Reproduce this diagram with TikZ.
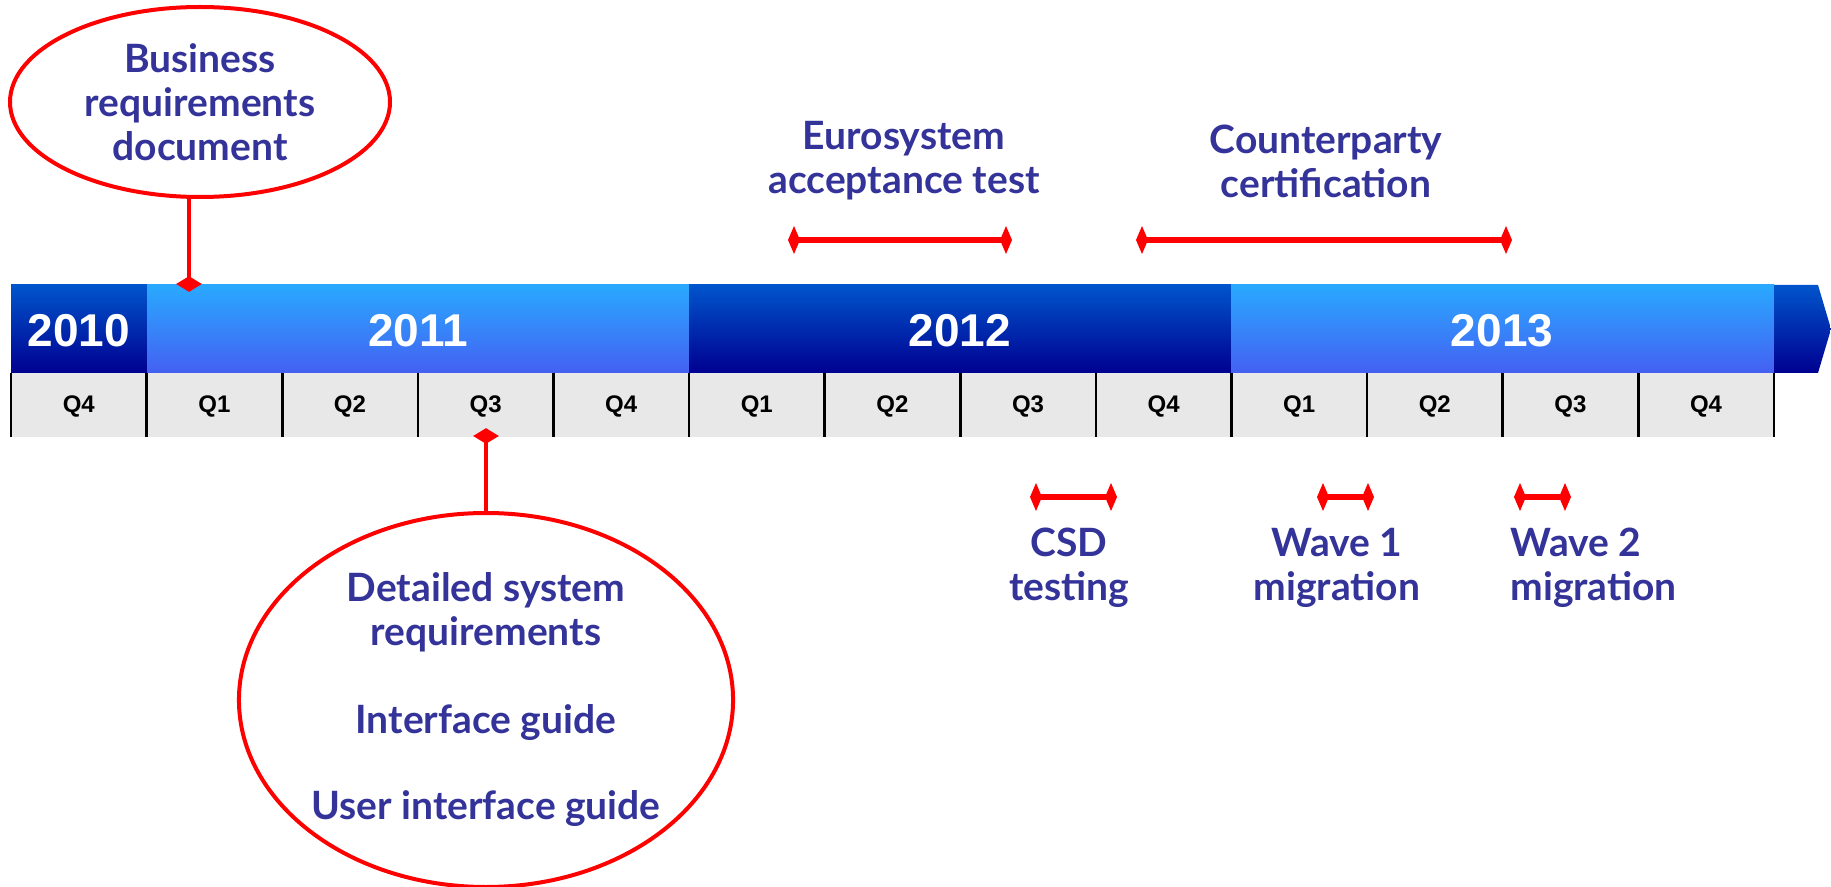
\documentclass[tikz,border=0pt]{standalone}
\usepackage{fontspec}
\newfontfamily\notefont{Lato}
\newfontfamily\barfont{Liberation Sans}
\usetikzlibrary{shapes.geometric,arrows.meta}

\definecolor{notecol}{HTML}{333399}
\definecolor{darktop}{HTML}{0055CC}
\definecolor{darkbot}{HTML}{000090}
\definecolor{lighttop}{HTML}{29A9FF}
\definecolor{lightbot}{HTML}{4460F2}
\definecolor{qgray}{HTML}{E8E8E8}

\tikzset{
  note/.style={text=notecol, font=\notefont\bfseries\fontsize{19.5}{22}\selectfont, align=center, inner sep=0pt},
  callout/.style={ellipse, draw=red, line width=2pt, note},
  milestone/.style={diamond, fill=red, inner sep=0pt, minimum width=13pt, minimum height=8pt},
  callline/.style={draw=red, line width=2pt},
  rangebar/.style={red, line width=3pt, {Diamond[length=6pt,width=14pt]}-{Diamond[length=6pt,width=14pt]}},
  yearlabel/.style={text=white, font=\barfont\bfseries\fontsize{23}{23}\selectfont},
  qlabel/.style={font=\barfont\bfseries\fontsize{12}{12}\selectfont},
  darkband/.style={top color=darktop, bottom color=darkbot},
  lightband/.style={top color=lighttop, bottom color=lightbot},
}

\begin{document}
\begin{tikzpicture}[x=0.5pt, y=-0.5pt]
\fill[white] (0,0) rectangle (1831,887);
\useasboundingbox (0,0) rectangle (1831,887);

% Year band
\shade[darkband] (11,285) rectangle (147,373);
\shade[lightband] (147,285) rectangle (689,373);
\shade[darkband] (689,285) rectangle (1231,373);
\shade[lightband] (1231,285) rectangle (1774,373);
\shade[darkband] (1774,285) -- (1818,285) -- (1831,329) -- (1818,373) -- (1774,373) -- cycle;

\node[yearlabel] (y2010) at (79,331) {2010};
\node[yearlabel] (y2011) at (418,331) {2011};
\node[yearlabel] (y2012) at (960,331) {2012};
\node[yearlabel] (y2013) at (1502,331) {2013};

% Quarters
\foreach \q [count=\i from 0] in {Q4,Q1,Q2,Q3,Q4,Q1,Q2,Q3,Q4,Q1,Q2,Q3,Q4} {
  \fill[qgray] ({11+135.6*\i},373) rectangle ({11+135.6*(\i+1)},437);
  \node[qlabel] (q\i) at ({11+135.6*(\i+0.5)},406) {\q};
}
\foreach \i in {0,...,13}
  \draw[line width=1.3pt] ({11+135.6*\i},373) -- ({11+135.6*\i},437);

% Callouts
\node[callout, minimum width=190pt, minimum height=95pt] (brd) at (200,102) {Business\\requirements\\document};
\node[milestone] (brdmark) at (189,284) {};
\draw[callline] (brdmark.center) -- (brdmark.center |- brd.south);

\node[callout, minimum width=247pt, minimum height=187pt] (dsr) at (486,700) {Detailed system\\requirements\\[22pt]Interface guide\\[21pt]User interface guide};
\node[milestone] (dsrmark) at (486,436) {};
\draw[callline] (dsrmark.center) -- (dsr.north);

% Ranges
\foreach \a/\b/\y in {788/1012/240, 1136/1512/240, 1030/1117/497, 1317/1374/497, 1514/1571/497}
  \draw[rangebar] (\a,\y) -- (\b,\y);

\node[note] (eat) at (904,161) {Eurosystem\\acceptance test};
\node[note] (cpc) at (1326,161) {Counterparty\\certification};
\node[note] (csd) at (1069,568) {CSD\\testing};
\node[note] (wv1) at (1337,568) {Wave 1\\migration};
\node[note, anchor=west, align=left] (wv2) at (1510,568) {Wave 2\\migration};
\end{tikzpicture}
\end{document}
